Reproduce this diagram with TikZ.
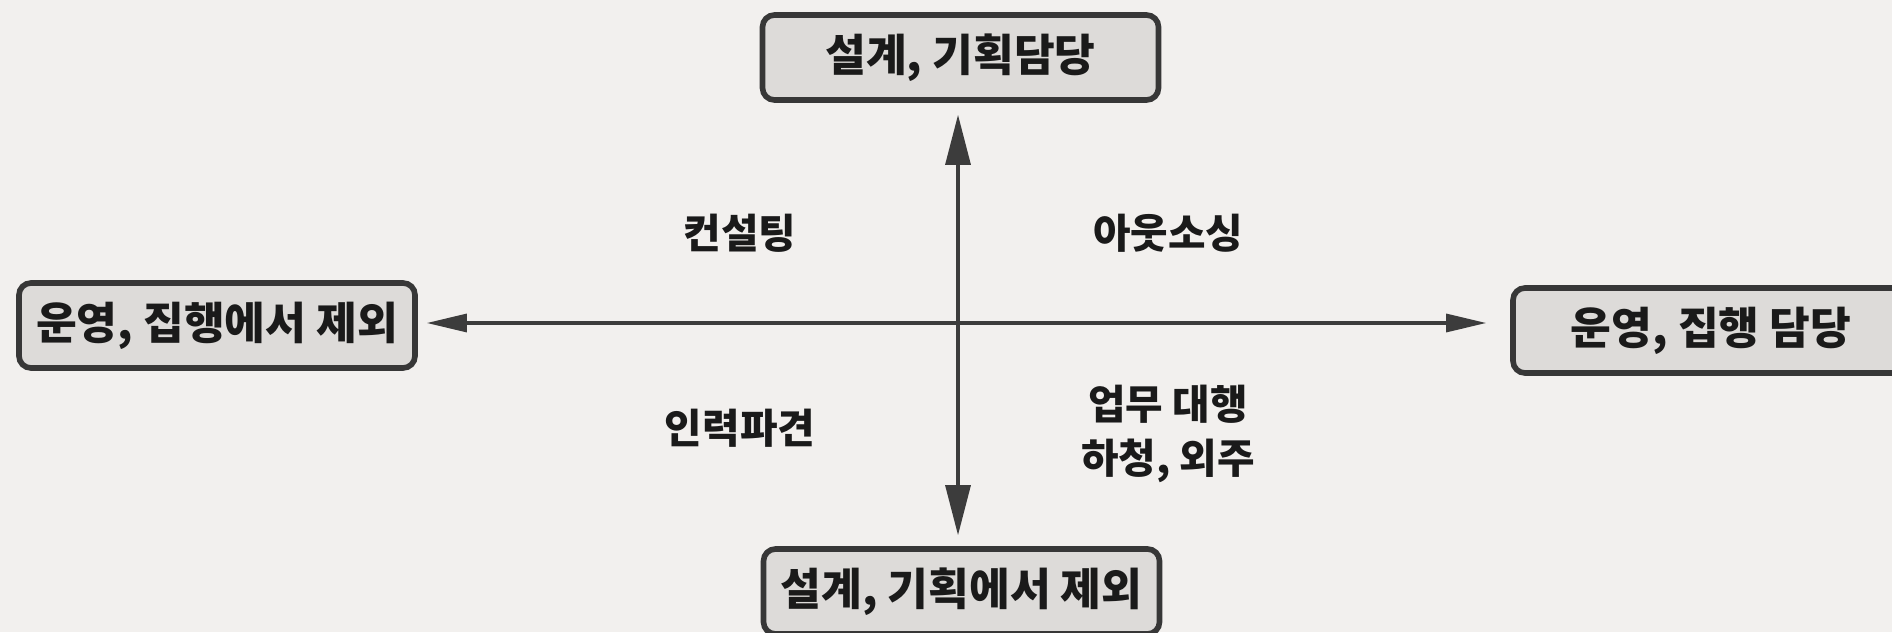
\documentclass[tikz,border=0pt]{standalone}
\usepackage{fontspec}
\setmainfont{Noto Sans CJK KR}
\usepackage{tikz}
\usetikzlibrary{arrows.meta}

\begin{document}
\begin{tikzpicture}[
        rolebox/.style={draw=boxline, fill=boxfill, line width=1.6pt, rounded corners=0.12cm,
            minimum width=3.96cm, minimum height=0.85cm, inner sep=0pt, text=ink,
            font=\fontsize{12.6}{14}\selectfont\bfseries},
        lbl/.style={text=ink, align=center, font=\fontsize{11.6}{15.4}\selectfont\bfseries},
        axis/.style={draw=ink!85, line width=0.9pt}
    ]
        \definecolor{paper}{RGB}{242,240,238}
        \definecolor{boxfill}{RGB}{221,219,217}
        \definecolor{boxline}{RGB}{55,55,55}
        \definecolor{ink}{RGB}{26,26,26}
        % Background and clipping frame
        \useasboundingbox (0,0) rectangle (18.92,6.32);
        \fill[paper] (0,0) rectangle (18.92,6.32);
        \clip (0,0) rectangle (18.92,6.32);

        % Centre of the cross
        \coordinate (c) at (9.58,3.09);

        % The four boxes
        \node[rolebox] (top) at (9.605,5.745) {설계, 기획담당};
        \node[rolebox] (bot) at (9.615,0.405) {설계, 기획에서 제외};
        \node[rolebox] (left) at (2.17,3.065) {운영, 집행에서 제외};
        \node[rolebox] (right) at (17.11,3.015) {운영, 집행 담당};

        % Draw the two axes
        \draw[axis, {Triangle[length=0.5cm,width=0.25cm]}-{Triangle[length=0.5cm,width=0.25cm]},
            shorten <=0.12cm, shorten >=0.11cm] (top.south -| c) -- (bot.north -| c);
        \draw[axis, {Triangle[length=0.4cm,width=0.18cm]}-{Triangle[length=0.4cm,width=0.18cm]},
            shorten <=0.09cm, shorten >=0.24cm] (left.east |- c) -- (right.west |- c);

        % Labels for each quadrant
        \node[lbl] (consult) at (7.40,3.99) {컨설팅};
        \node[lbl] (outsrc) at (11.68,3.99) {아웃소싱};
        \node[lbl] (dispatch) at (7.40,2.04) {인력파견};
        \node[lbl] (agency) at (11.68,1.98) {업무 대행\\하청, 외주};
    \end{tikzpicture}
\end{document}
